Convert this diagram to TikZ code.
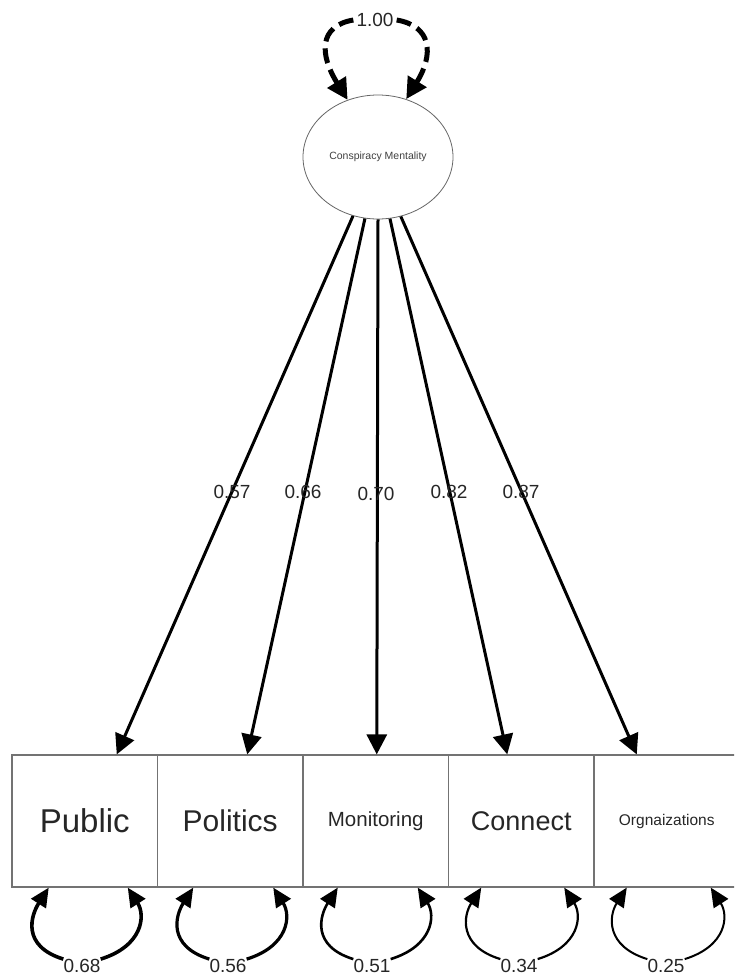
\documentclass[tikz,border=0pt]{standalone}
\usepackage{fontspec}
\setmainfont{Liberation Sans}
\usetikzlibrary{arrows.meta,shapes.geometric}
\tikzset{
 lat/.style={ellipse, draw=black!60, line width=0.8pt, minimum width=150pt, minimum height=124pt, inner sep=0pt, text=black!75},
 obs/.style={rectangle, draw=black!55, line width=1.2pt, minimum width=145.5pt, minimum height=132pt, inner sep=0pt, text=black!85},
 load/.style={-{Triangle[length=20pt,width=20pt]}, line width=3pt},
 lbl/.style={font=\fontsize{19}{22}\selectfont, text=black!85, inner sep=0pt},
 resid/.style={-{Triangle[length=19pt,width=17pt]}, line width=#1},
 varloop/.style={-{Triangle[length=21pt,width=21pt]}, line width=5pt, dash pattern=on 15pt off 7pt},
}
\begin{document}
\begin{tikzpicture}[x=1pt,y=-1pt]
\useasboundingbox (0,0) rectangle (734,975);
\begin{scope}
\clip (0,0) rectangle (734,975);
% latent
\node[lat] (cm) at (378,157) {\fontsize{10.5}{12}\selectfont Conspiracy Mentality};
% observed
\node[obs] (b1) at (84.75,821) {\fontsize{33}{38}\selectfont Public};
\node[obs] (b2) at (230.25,821) {\fontsize{30}{36}\selectfont Politics};
\node[obs] (b3) at (375.75,821) {\fontsize{20.5}{24}\selectfont Monitoring};
\node[obs] (b4) at (521.25,821) {\fontsize{27}{32}\selectfont Connect};
\node[obs] (b5) at (666.75,821) {\fontsize{15.5}{18}\selectfont Orgnaizations};
% variance loop on latent
\node[lbl] (t) at (375,20) {1.00};
\draw[varloop] ([xshift=-3pt]t.west) .. controls +(-35,6) and +(-28,-45) .. (cm.118);
\draw[varloop] ([xshift=3pt]t.east) .. controls +(35,6) and +(28,-45) .. (cm.64);
% loadings
\draw[load] (cm.247) -- ([xshift=32pt]b1.north);
\draw[load] (cm.258) -- ([xshift=17pt]b2.north);
\draw[load] (cm.270) -- ([xshift=1pt]b3.north);
\draw[load] (cm.281) -- ([xshift=-14pt]b4.north);
\draw[load] (cm.291) -- ([xshift=-30pt]b5.north);
\node[lbl] (l1) at (232,492) {0.57};
\node[lbl] (l2) at (303,492) {0.66};
\node[lbl] (l3) at (376,494) {0.70};
\node[lbl] (l4) at (449,492) {0.82};
\node[lbl] (l5) at (521,492) {0.87};
% residual loops
\node[lbl] (r1) at (82,966) {0.68};
\node[lbl] (r2) at (228,966) {0.56};
\node[lbl] (r3) at (372,966) {0.51};
\node[lbl] (r4) at (519,966) {0.34};
\node[lbl] (r5) at (666,966) {0.25};
\draw[resid=3.6pt] (r1.north west) .. controls +(-42,-13) and +(-18,28) .. ([xshift=-36pt]b1.south);
\draw[resid=3.6pt] (r1.north east) .. controls +(42,-13) and +(18,28) .. ([xshift=43pt]b1.south);
\draw[resid=3.2pt] (r2.north west) .. controls +(-42,-13) and +(-18,28) .. ([xshift=-37pt]b2.south);
\draw[resid=3.2pt] (r2.north east) .. controls +(42,-13) and +(18,28) .. ([xshift=43pt]b2.south);
\draw[resid=2.6pt] (r3.north west) .. controls +(-42,-13) and +(-18,28) .. ([xshift=-38pt]b3.south);
\draw[resid=2.6pt] (r3.north east) .. controls +(42,-13) and +(18,28) .. ([xshift=42pt]b3.south);
\draw[resid=2.2pt] (r4.north west) .. controls +(-42,-13) and +(-18,28) .. ([xshift=-40pt]b4.south);
\draw[resid=2.2pt] (r4.north east) .. controls +(42,-13) and +(18,28) .. ([xshift=43pt]b4.south);
\draw[resid=2pt] (r5.north west) .. controls +(-42,-13) and +(-18,28) .. ([xshift=-40pt]b5.south);
\draw[resid=2pt] (r5.north east) .. controls +(42,-13) and +(18,28) .. ([xshift=44pt]b5.south);
\end{scope}
\end{tikzpicture}
\end{document}
